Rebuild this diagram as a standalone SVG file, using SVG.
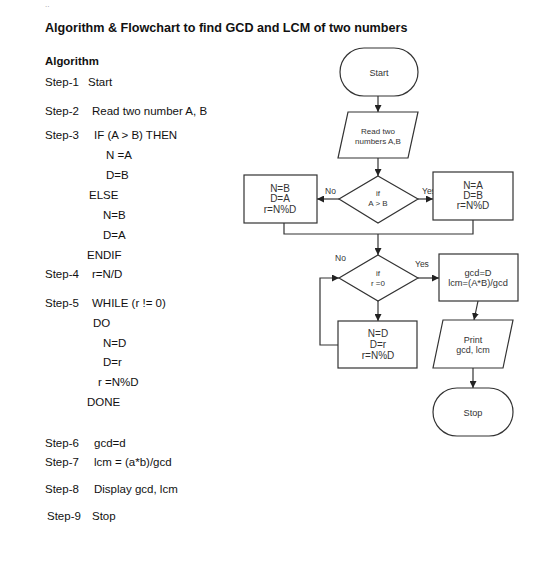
<svg xmlns="http://www.w3.org/2000/svg" width="538" height="581" viewBox="0 0 538 581">
<defs>
<marker id="arr" viewBox="0 0 10 10" refX="10" refY="5" markerWidth="7" markerHeight="7" markerUnits="userSpaceOnUse" orient="auto">
<path d="M0,0 L10,5 L0,10 z" fill="#222"/>
</marker>
<style>
.t{font-family:"Liberation Sans",Arial,sans-serif;font-size:11.5px;fill:#111}
.b{font-family:"Liberation Sans",Arial,sans-serif;font-weight:bold;fill:#111}
.f{font-family:"Liberation Sans",Arial,sans-serif;fill:#333;text-anchor:middle}
.s{fill:#fff;stroke:#333;stroke-width:1.2}
.c{fill:none;stroke:#333;stroke-width:1.2}
.a{fill:none;stroke:#333;stroke-width:1.2;marker-end:url(#arr)}
.l{font-family:"Liberation Sans",Arial,sans-serif;font-size:8.5px;fill:#333}
</style>
</defs>
<rect width="538" height="581" fill="#fff"/>
<g id="text">
<text x="45" y="7" class="t" style="font-size:8px;fill:#999">..</text>
<text x="45" y="32" class="b" style="font-size:12.6px">Algorithm &amp; Flowchart to find GCD and LCM of two numbers</text>
<text x="45" y="65" class="b" style="font-size:11.4px">Algorithm</text>
<text x="45" y="86" class="t">Step-1</text><text x="88" y="86" class="t">Start</text>
<text x="45" y="115" class="t">Step-2</text><text x="92" y="115" class="t">Read two number A, B</text>
<text x="45" y="139" class="t">Step-3</text><text x="94" y="139" class="t">IF (A &gt; B) THEN</text>
<text x="106" y="159" class="t">N =A</text>
<text x="106" y="179" class="t">D=B</text>
<text x="89" y="199" class="t">ELSE</text>
<text x="103" y="219" class="t">N=B</text>
<text x="103" y="239" class="t">D=A</text>
<text x="87" y="259" class="t">ENDIF</text>
<text x="45" y="278" class="t">Step-4</text><text x="92" y="278" class="t">r=N/D</text>
<text x="45" y="307" class="t">Step-5</text><text x="92" y="307" class="t">WHILE (r != 0)</text>
<text x="93" y="327" class="t">DO</text>
<text x="103" y="347" class="t">N=D</text>
<text x="103" y="366" class="t">D=r</text>
<text x="98" y="386" class="t">r =N%D</text>
<text x="87" y="406" class="t">DONE</text>
<text x="45" y="447" class="t">Step-6</text><text x="94" y="447" class="t">gcd=d</text>
<text x="45" y="466" class="t">Step-7</text><text x="94" y="466" class="t">lcm = (a*b)/gcd</text>
<text x="45" y="493" class="t">Step-8</text><text x="94" y="493" class="t">Display gcd, lcm</text>
<text x="47" y="520" class="t">Step-9</text><text x="92" y="520" class="t">Stop</text>
</g>
<g id="connectors">
<line x1="378" y1="96" x2="378" y2="112" class="a"/>
<line x1="378" y1="158" x2="378" y2="176" class="a"/>
<line x1="339" y1="199" x2="317" y2="199" class="a"/>
<line x1="418" y1="199" x2="433" y2="199" class="a"/>
<polyline points="284,223 284,234 473,234 473,220" class="c"/>
<line x1="378" y1="234" x2="378" y2="255" class="a"/>
<line x1="418" y1="278" x2="439" y2="278" class="a"/>
<line x1="378" y1="301" x2="378" y2="321" class="a"/>
<polyline points="338,345 320,345 320,278 339,278" class="a"/>
<line x1="478" y1="301" x2="474" y2="320" class="a"/>
<line x1="473" y1="368" x2="473" y2="388" class="a"/>
<text x="422" y="194" class="l">Yes</text>
<text x="325" y="194" class="l">No</text>
<text x="335" y="261" class="l">No</text>
<text x="415" y="267" class="l">Yes</text>
</g>
<g id="start"><rect x="340" y="48" width="78" height="48" rx="24" class="s"/><text x="379" y="76" class="f" style="font-size:9px">Start</text></g>
<g id="read"><polygon points="348,112 418,112 408,158 338,158" class="s"/><text x="378" y="134" class="f" style="font-size:8px">Read two</text><text x="378" y="144" class="f" style="font-size:8px">numbers A,B</text></g>
<g id="cond1"><polygon points="378,176 418,199 378,223 339,199" class="s"/><text x="378" y="196" class="f" style="font-size:8px">if</text><text x="378" y="206" class="f" style="font-size:8px">A &gt; B</text></g>
<g id="elsebox"><rect x="244" y="175" width="73" height="48" class="s"/><text x="280" y="192" class="f" style="font-size:10px">N=B</text><text x="280" y="202" class="f" style="font-size:10px">D=A</text><text x="280" y="213" class="f" style="font-size:10px">r=N%D</text></g>
<g id="thenbox"><rect x="433" y="172" width="80" height="48" class="s"/><text x="473" y="189" class="f" style="font-size:10px">N=A</text><text x="473" y="199" class="f" style="font-size:10px">D=B</text><text x="473" y="209" class="f" style="font-size:10px">r=N%D</text></g>
<g id="cond2"><polygon points="378,255 418,278 378,301 339,278" class="s"/><text x="378" y="276" class="f" style="font-size:8px">if</text><text x="378" y="286" class="f" style="font-size:8px">r =0</text></g>
<g id="loopbox"><rect x="338" y="321" width="79" height="47" class="s"/><text x="378" y="337" class="f" style="font-size:10px">N=D</text><text x="378" y="348" class="f" style="font-size:10px">D=r</text><text x="378" y="359" class="f" style="font-size:10px">r=N%D</text></g>
<g id="gcdbox"><rect x="439" y="254" width="79" height="47" class="s"/><text x="478" y="276" class="f" style="font-size:9.3px">gcd=D</text><text x="478" y="286" class="f" style="font-size:9.3px">lcm=(A*B)/gcd</text></g>
<g id="print"><polygon points="443,320 513,320 503,368 433,368" class="s"/><text x="473" y="343" class="f" style="font-size:9px">Print</text><text x="473" y="353" class="f" style="font-size:9px">gcd, lcm</text></g>
<g id="stop"><rect x="433" y="388" width="80" height="48" rx="24" class="s"/><text x="473" y="416" class="f" style="font-size:9.2px">Stop</text></g>
</svg>
